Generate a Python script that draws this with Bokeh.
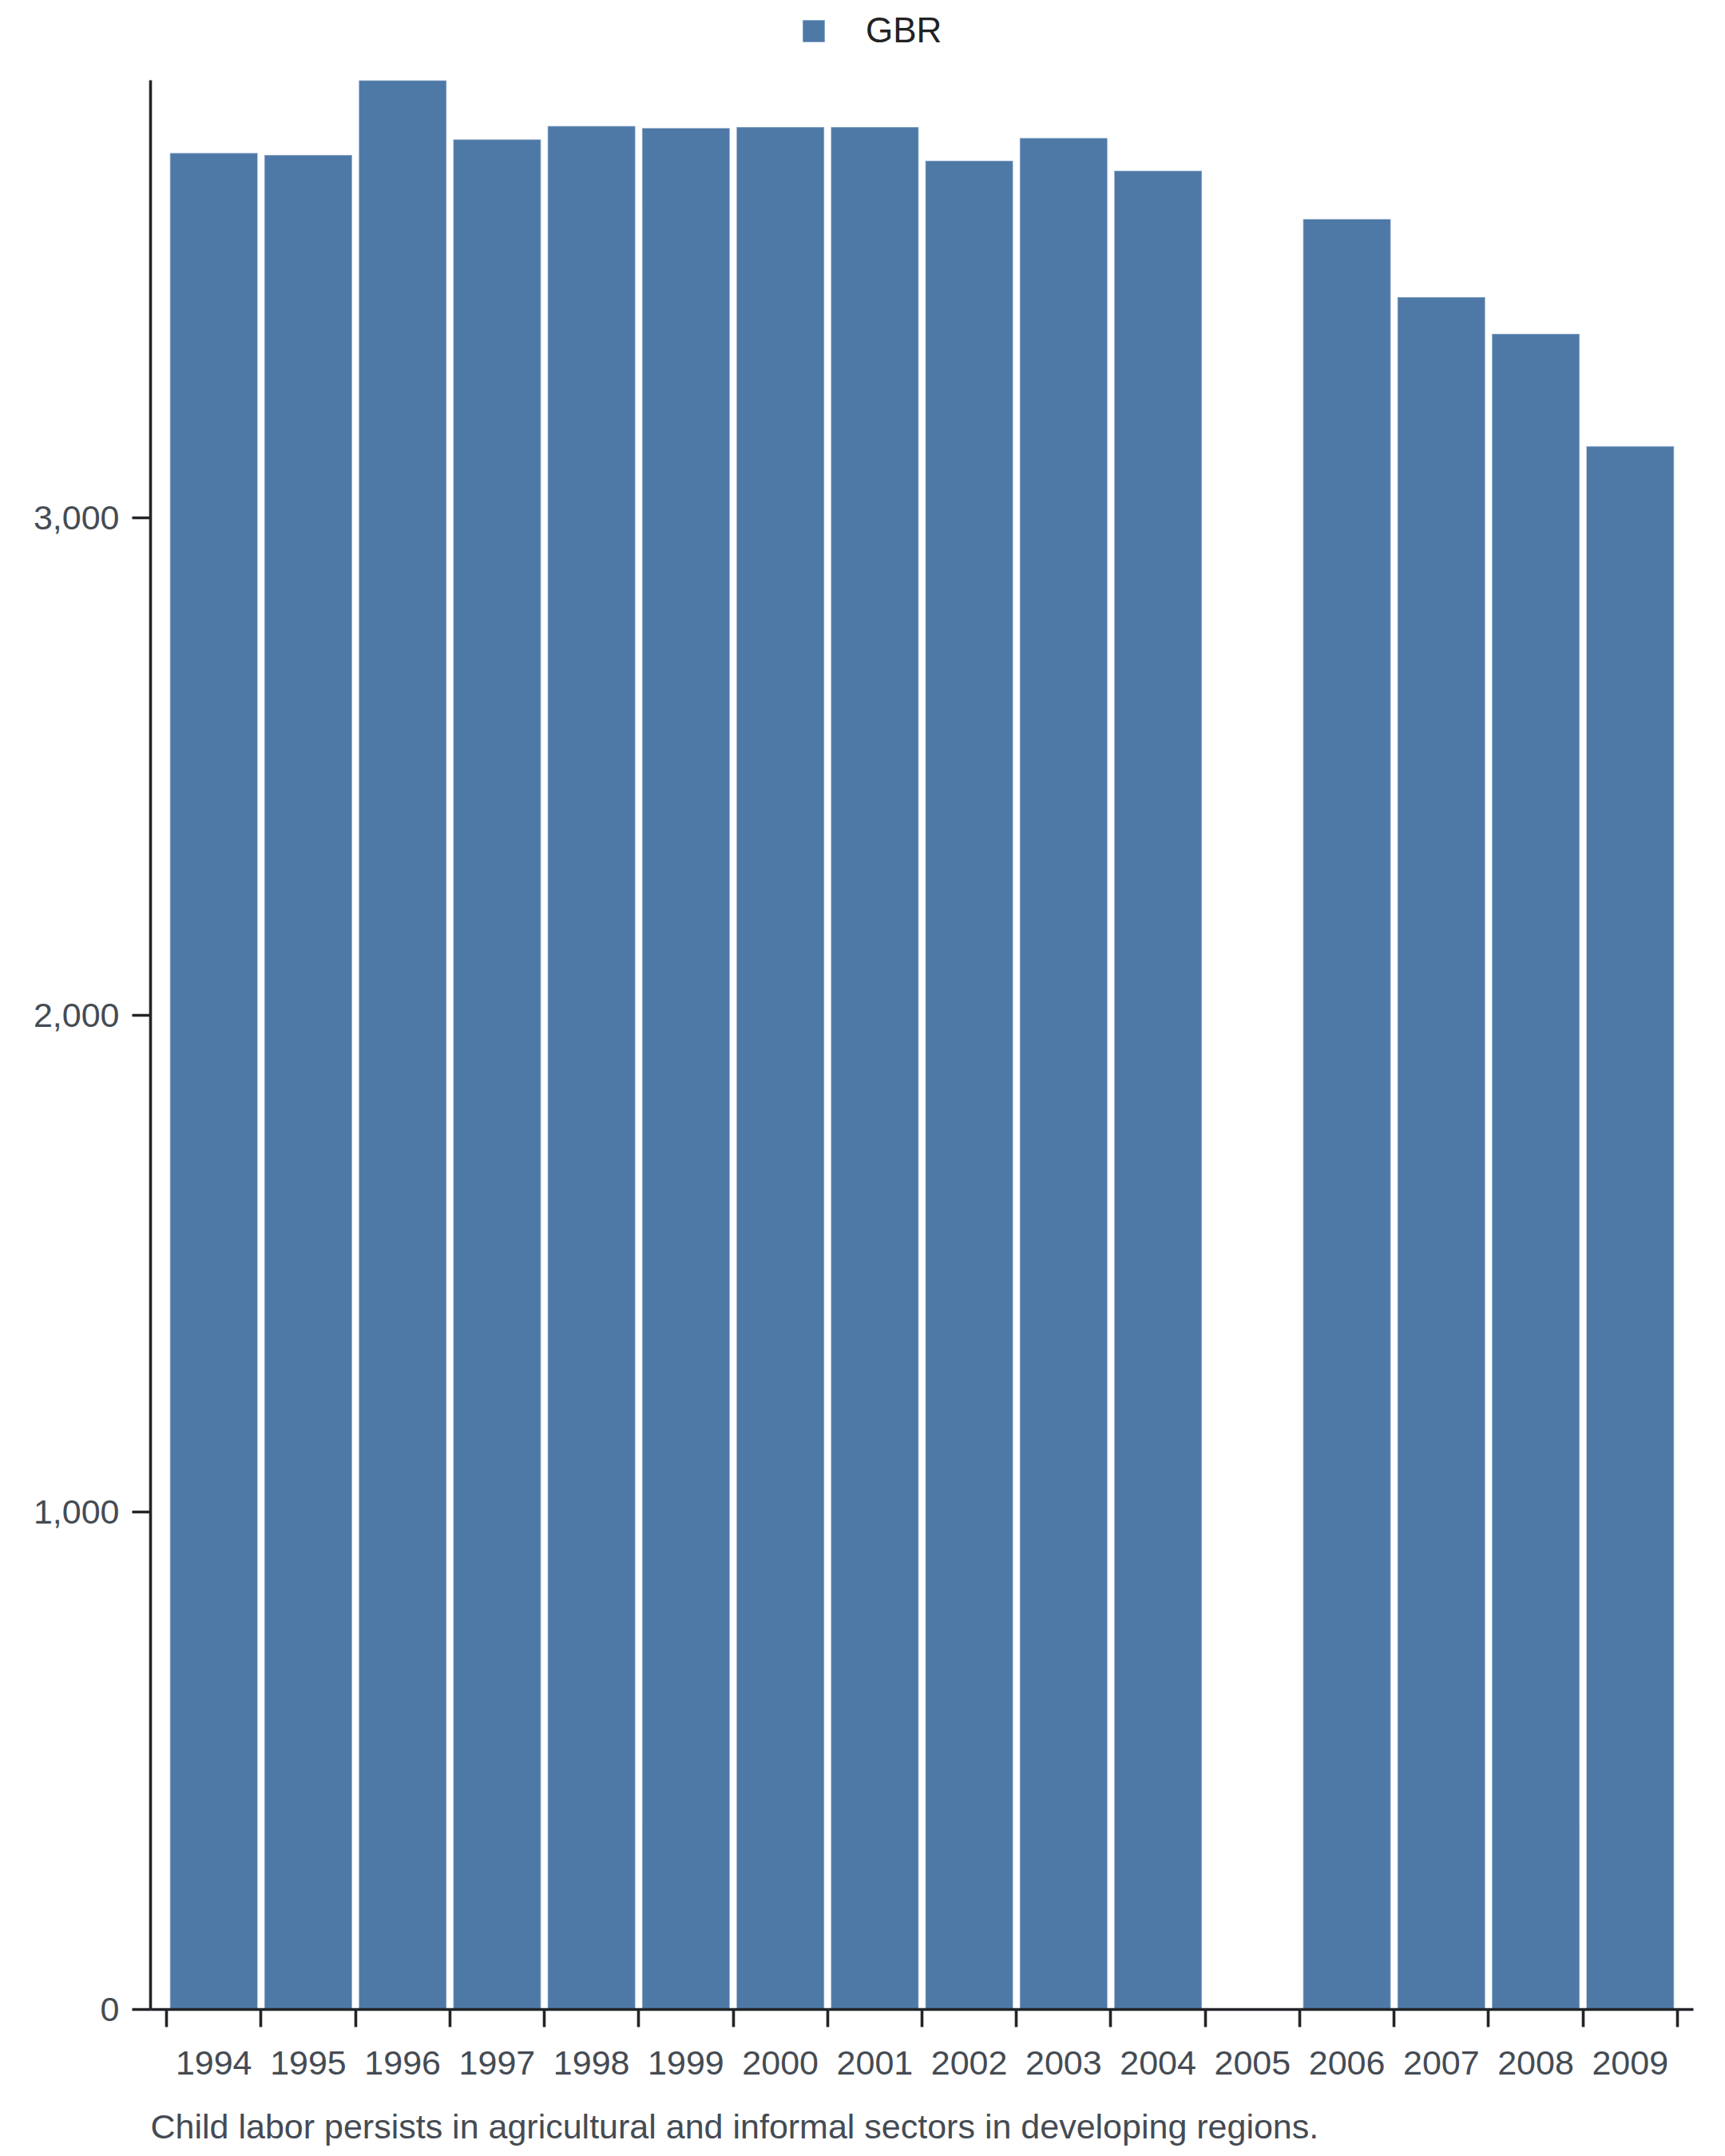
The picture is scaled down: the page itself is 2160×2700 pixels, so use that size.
from bokeh.plotting import figure
from bokeh.layouts import column
from bokeh.models import (ColumnDataSource, Range1d, FixedTicker, NumeralTickFormatter,
                          Legend, LegendItem, Title)
from bokeh.embed import file_html
from bokeh.resources import INLINE

# ---- data ----
years = [1994, 1995, 1996, 1997, 1998, 1999, 2000, 2001, 2002, 2003, 2004, 2005, 2006, 2007, 2008, 2009]
values = [3734, 3730, 3880, 3761, 3788, 3784, 3786, 3786, 3718, 3764, 3698, None, 3601, 3444, 3370, 3144]
series_name = "GBR"
y_ticks = [0, 1000, 2000, 3000]
caption = "Child labor persists in agricultural and informal sectors in developing regions."

FONT = "Liberation Sans"
BAR = "#4e79a7"
AXIS = "#222428"
TXT = "#454b53"
BAR_STYLE = dict(fill_color=BAR, line_color="white", line_alpha=0.45, line_width=1.5)

xs = [y for y, v in zip(years, values) if v is not None]
vs = [v for v in values if v is not None]
src = ColumnDataSource(data=dict(year=xs, value=vs))

pad = 0.17
x_rng = Range1d(years[0] - 0.5 - pad, years[-1] + 0.5 + pad)
ymax = max(vs)

# ---- legend strip on top (its frame is aligned with the chart's frame) ----
leg = figure(width=2150, height=100, min_border=0, output_backend="svg",
             x_range=x_rng, y_range=Range1d(2 * ymax, 3 * ymax),
             toolbar_location=None, x_axis_location=None, y_axis_location=None)
leg.outline_line_color = None
leg.grid.visible = False
# same bars, just below this strip's visible y range: only their legend entry shows
leg_r = leg.vbar(x="year", top="value", bottom=0, width=0.93, source=src, **BAR_STYLE)
legend = Legend(items=[LegendItem(label=series_name, renderers=[leg_r])],
                location=(813, 37), orientation="horizontal",
                padding=0, margin=0, border_line_alpha=0, background_fill_alpha=0,
                glyph_width=35, glyph_height=35, label_standoff=48,
                label_text_font=FONT, label_text_font_size="44px", label_text_color="#222222")
leg.add_layout(legend)

# ---- main chart ----
p = figure(
    frame_width=1932, frame_height=2416,
    x_range=x_rng,
    y_range=Range1d(0, ymax),
    output_backend="svg", toolbar_location=None,
    min_border_left=188, min_border_right=30, min_border_top=0, min_border_bottom=10,
)
p.outline_line_color = None
p.xgrid.visible = False
p.ygrid.visible = False

p.vbar(x="year", top="value", bottom=0, width=0.93, source=src, **BAR_STYLE)

# x axis: labels at bar centres, ticks at band boundaries
xa = p.xaxis[0]
xa.ticker = FixedTicker(ticks=years, minor_ticks=[y - 0.5 for y in years] + [years[-1] + 0.5])
xa.major_label_overrides = {y: str(y) for y in years}
xa.major_tick_out = 0
xa.major_tick_in = 0
xa.minor_tick_out = 22
xa.minor_tick_in = 0
xa.minor_tick_line_width = 3.6
xa.minor_tick_line_color = AXIS
xa.axis_line_width = 3.6
xa.axis_line_color = AXIS
xa.major_label_standoff = 30
xa.major_label_text_font = FONT
xa.major_label_text_font_size = "43px"
xa.major_label_text_color = TXT

ya = p.yaxis[0]
ya.ticker = FixedTicker(ticks=y_ticks)
ya.formatter = NumeralTickFormatter(format="0,0")
ya.major_tick_out = 23
ya.major_tick_in = 0
ya.minor_tick_out = 0
ya.minor_tick_in = 0
ya.major_tick_line_width = 3.6
ya.major_tick_line_color = AXIS
ya.axis_line_width = 3.6
ya.axis_line_color = AXIS
ya.major_label_standoff = 16
ya.major_label_text_font = FONT
ya.major_label_text_font_size = "43px"
ya.major_label_text_color = TXT

cap = Title(text=caption, align="left", text_font=FONT, text_font_size="43px",
            text_font_style="normal", text_color=TXT, offset=0, standoff=73)
p.add_layout(cap, "below")

page = column(leg, p, spacing=0)
open("out.html", "w").write(file_html(page, INLINE))
